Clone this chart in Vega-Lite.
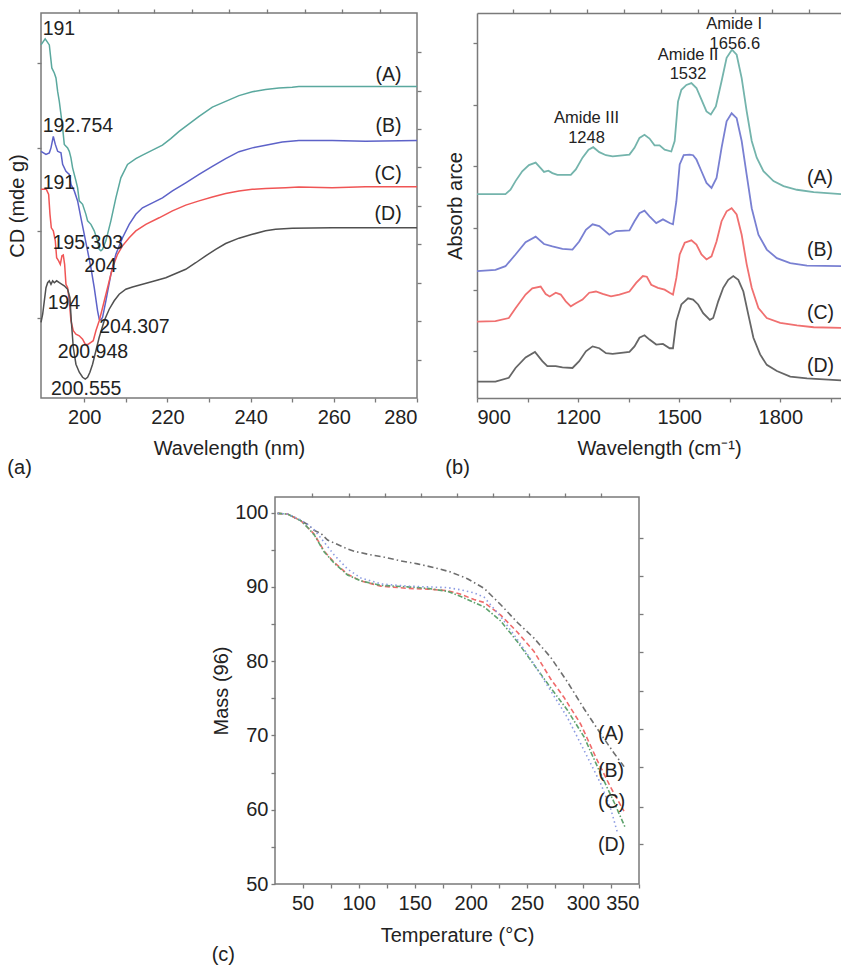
{
"$schema": "https://vega.github.io/schema/vega-lite/v6.json",
"padding": {"left": 6, "top": 7, "right": 0, "bottom": 5},
"background": "white",
"config": {
  "font": "Liberation Sans",
  "view": {"stroke": "#7a7a7a", "strokeWidth": 1.5},
  "axis": {"labelFont": "Liberation Sans", "labelFontSize": 20, "labelColor": "#222", "titleFont": "Liberation Sans", "titleFontSize": 20, "titleFontWeight": "normal", "titleColor": "#222", "tickColor": "#7a7a7a", "tickSize": 4, "tickWidth": 1.3, "domain": false, "grid": false, "domainColor": "#7a7a7a", "domainWidth": 1.5, "labelPadding": 5, "format": "d"},
  "title": {"font": "Liberation Sans", "fontSize": 20, "fontWeight": "normal", "color": "#222"},
  "text": {"font": "Liberation Sans", "color": "#222"}
},
"datasets": {
 "cd": [
  {"s":"A","x":189.6,"y":9.19},{"s":"A","x":190.6,"y":9.35},{"s":"A","x":191.6,"y":9.19},{"s":"A","x":192.2,"y":8.59},{"s":"A","x":192.8,"y":8.46},{"s":"A","x":193.2,"y":8.33},{"s":"A","x":193.6,"y":7.98},{"s":"A","x":194.0,"y":7.72},{"s":"A","x":194.4,"y":7.38},{"s":"A","x":194.8,"y":7.03},{"s":"A","x":195.2,"y":6.6},{"s":"A","x":196.0,"y":6.51},{"s":"A","x":196.4,"y":6.42},{"s":"A","x":196.8,"y":6.25},{"s":"A","x":197.2,"y":5.99},{"s":"A","x":198.0,"y":5.65},{"s":"A","x":198.4,"y":5.47},{"s":"A","x":198.8,"y":5.13},{"s":"A","x":199.6,"y":5.04},{"s":"A","x":200.4,"y":4.78},{"s":"A","x":200.8,"y":4.61},{"s":"A","x":201.6,"y":4.52},{"s":"A","x":202.4,"y":4.35},{"s":"A","x":203.2,"y":4.09},{"s":"A","x":203.6,"y":3.87},{"s":"A","x":204.0,"y":3.83},{"s":"A","x":204.4,"y":3.87},{"s":"A","x":205.2,"y":4.09},{"s":"A","x":206.4,"y":4.61},{"s":"A","x":207.6,"y":5.21},{"s":"A","x":208.8,"y":5.73},{"s":"A","x":210.4,"y":6.08},{"s":"A","x":212.4,"y":6.23},{"s":"A","x":214.0,"y":6.32},{"s":"A","x":216.4,"y":6.45},{"s":"A","x":218.8,"y":6.58},{"s":"A","x":220.8,"y":6.75},{"s":"A","x":222.8,"y":6.94},{"s":"A","x":224.4,"y":7.07},{"s":"A","x":227.6,"y":7.33},{"s":"A","x":230.8,"y":7.57},{"s":"A","x":234.0,"y":7.72},{"s":"A","x":237.2,"y":7.87},{"s":"A","x":240.4,"y":7.97},{"s":"A","x":243.6,"y":8.03},{"s":"A","x":246.8,"y":8.07},{"s":"A","x":250.0,"y":8.09},{"s":"A","x":251.6,"y":8.11},{"s":"A","x":260,"y":8.11},{"s":"A","x":270,"y":8.11},{"s":"A","x":280,"y":8.11},
  {"s":"B","x":189.6,"y":6.42},{"s":"B","x":190.8,"y":6.34},{"s":"B","x":191.6,"y":6.38},{"s":"B","x":192.0,"y":6.51},{"s":"B","x":192.56,"y":6.81},{"s":"B","x":193.04,"y":6.6},{"s":"B","x":193.6,"y":6.42},{"s":"B","x":194.4,"y":6.38},{"s":"B","x":194.8,"y":6.08},{"s":"B","x":195.6,"y":5.9},{"s":"B","x":196.4,"y":5.82},{"s":"B","x":196.8,"y":5.56},{"s":"B","x":197.6,"y":5.39},{"s":"B","x":198.4,"y":5.13},{"s":"B","x":199.2,"y":4.69},{"s":"B","x":200.0,"y":4.26},{"s":"B","x":200.8,"y":3.83},{"s":"B","x":201.6,"y":3.39},{"s":"B","x":202.4,"y":2.87},{"s":"B","x":203.2,"y":2.27},{"s":"B","x":203.6,"y":2.05},{"s":"B","x":204.0,"y":2.03},{"s":"B","x":204.4,"y":2.1},{"s":"B","x":205.2,"y":2.53},{"s":"B","x":206.4,"y":3.22},{"s":"B","x":207.6,"y":3.74},{"s":"B","x":209.2,"y":4.17},{"s":"B","x":210.8,"y":4.52},{"s":"B","x":212.4,"y":4.78},{"s":"B","x":214.0,"y":4.95},{"s":"B","x":216.4,"y":5.08},{"s":"B","x":218.8,"y":5.21},{"s":"B","x":221.2,"y":5.39},{"s":"B","x":224.4,"y":5.6},{"s":"B","x":227.6,"y":5.82},{"s":"B","x":230.8,"y":6.03},{"s":"B","x":234.0,"y":6.23},{"s":"B","x":237.2,"y":6.41},{"s":"B","x":240.4,"y":6.51},{"s":"B","x":243.6,"y":6.58},{"s":"B","x":247.6,"y":6.66},{"s":"B","x":251.6,"y":6.7},{"s":"B","x":259.6,"y":6.7},{"s":"B","x":267.6,"y":6.68},{"s":"B","x":280,"y":6.7},
  {"s":"C","x":189.6,"y":5.43},{"s":"C","x":190.4,"y":5.43},{"s":"C","x":190.8,"y":5.45},{"s":"C","x":191.44,"y":5.3},{"s":"C","x":191.76,"y":4.78},{"s":"C","x":192.08,"y":4.43},{"s":"C","x":192.56,"y":4.35},{"s":"C","x":193.04,"y":4.09},{"s":"C","x":193.36,"y":3.65},{"s":"C","x":193.84,"y":3.57},{"s":"C","x":194.24,"y":3.48},{"s":"C","x":194.64,"y":3.7},{"s":"C","x":194.96,"y":3.72},{"s":"C","x":195.28,"y":3.48},{"s":"C","x":195.6,"y":2.96},{"s":"C","x":196.0,"y":2.87},{"s":"C","x":196.4,"y":2.53},{"s":"C","x":196.8,"y":2.01},{"s":"C","x":197.36,"y":1.75},{"s":"C","x":198.0,"y":1.66},{"s":"C","x":198.8,"y":1.62},{"s":"C","x":199.6,"y":1.53},{"s":"C","x":200.24,"y":1.4},{"s":"C","x":200.8,"y":1.39},{"s":"C","x":201.6,"y":1.45},{"s":"C","x":202.16,"y":1.49},{"s":"C","x":202.8,"y":1.75},{"s":"C","x":203.6,"y":2.01},{"s":"C","x":204.4,"y":2.35},{"s":"C","x":205.6,"y":2.87},{"s":"C","x":206.8,"y":3.39},{"s":"C","x":208.0,"y":3.74},{"s":"C","x":209.2,"y":3.96},{"s":"C","x":210.8,"y":4.17},{"s":"C","x":212.4,"y":4.35},{"s":"C","x":214.8,"y":4.52},{"s":"C","x":218.0,"y":4.69},{"s":"C","x":221.2,"y":4.87},{"s":"C","x":224.4,"y":5.02},{"s":"C","x":227.6,"y":5.13},{"s":"C","x":230.8,"y":5.23},{"s":"C","x":234.0,"y":5.32},{"s":"C","x":237.2,"y":5.39},{"s":"C","x":240.4,"y":5.43},{"s":"C","x":243.6,"y":5.45},{"s":"C","x":248.4,"y":5.47},{"s":"C","x":251.6,"y":5.49},{"s":"C","x":259.6,"y":5.47},{"s":"C","x":267.6,"y":5.5},{"s":"C","x":280,"y":5.5},
  {"s":"D","x":189.6,"y":1.97},{"s":"D","x":190.0,"y":2.18},{"s":"D","x":190.4,"y":2.53},{"s":"D","x":190.8,"y":2.87},{"s":"D","x":191.2,"y":3.0},{"s":"D","x":191.6,"y":3.05},{"s":"D","x":192.0,"y":2.96},{"s":"D","x":192.4,"y":3.05},{"s":"D","x":192.8,"y":3.0},{"s":"D","x":193.36,"y":3.05},{"s":"D","x":194.0,"y":3.0},{"s":"D","x":194.64,"y":2.96},{"s":"D","x":195.2,"y":2.92},{"s":"D","x":196.0,"y":2.83},{"s":"D","x":196.56,"y":2.61},{"s":"D","x":196.88,"y":2.01},{"s":"D","x":197.36,"y":1.32},{"s":"D","x":198.0,"y":0.88},{"s":"D","x":198.8,"y":0.67},{"s":"D","x":199.6,"y":0.54},{"s":"D","x":200.24,"y":0.49},{"s":"D","x":200.8,"y":0.54},{"s":"D","x":201.36,"y":0.67},{"s":"D","x":202.0,"y":0.88},{"s":"D","x":202.8,"y":1.23},{"s":"D","x":203.6,"y":1.58},{"s":"D","x":204.8,"y":2.01},{"s":"D","x":206.0,"y":2.31},{"s":"D","x":207.2,"y":2.53},{"s":"D","x":208.4,"y":2.7},{"s":"D","x":210.0,"y":2.83},{"s":"D","x":211.6,"y":2.89},{"s":"D","x":214.0,"y":2.96},{"s":"D","x":216.4,"y":3.03},{"s":"D","x":219.6,"y":3.13},{"s":"D","x":222.0,"y":3.24},{"s":"D","x":224.4,"y":3.35},{"s":"D","x":226.8,"y":3.52},{"s":"D","x":229.2,"y":3.7},{"s":"D","x":231.6,"y":3.87},{"s":"D","x":234.0,"y":4.02},{"s":"D","x":237.2,"y":4.16},{"s":"D","x":240.4,"y":4.26},{"s":"D","x":243.6,"y":4.35},{"s":"D","x":246.0,"y":4.39},{"s":"D","x":250.0,"y":4.42},{"s":"D","x":259.6,"y":4.43},{"s":"D","x":280,"y":4.43}
 ],
 "cdlab": [
  {"t":"191","x":190.0,"y":9.61},{"t":"192.754","x":190.0,"y":7.07},{"t":"191","x":190.0,"y":5.6},{"t":"195.303","x":192.4,"y":4.04},{"t":"204","x":200.0,"y":3.44},{"t":"194","x":191.2,"y":2.48},{"t":"204.307","x":203.6,"y":1.84},{"t":"200.948","x":193.6,"y":1.19},{"t":"200.555","x":192.0,"y":0.23},
  {"t":"(A)","x":270.0,"y":8.4},{"t":"(B)","x":270.0,"y":7.07},{"t":"(C)","x":269.8,"y":5.82},{"t":"(D)","x":269.8,"y":4.78}
 ],
 "ir": [
  {"s":"A","x":900,"y":3.55},{"s":"A","x":984.5,"y":3.55},{"s":"A","x":999.4,"y":3.62},{"s":"A","x":1014.3,"y":3.76},{"s":"A","x":1034.2,"y":3.92},{"s":"A","x":1054.1,"y":4.02},{"s":"A","x":1074,"y":4.06},{"s":"A","x":1088.9,"y":3.97},{"s":"A","x":1098.8,"y":3.91},{"s":"A","x":1111.7,"y":3.93},{"s":"A","x":1123.7,"y":3.89},{"s":"A","x":1138.6,"y":3.86},{"s":"A","x":1178.3,"y":3.86},{"s":"A","x":1193.2,"y":3.95},{"s":"A","x":1213.1,"y":4.14},{"s":"A","x":1231,"y":4.27},{"s":"A","x":1244.9,"y":4.31},{"s":"A","x":1262.8,"y":4.23},{"s":"A","x":1282.7,"y":4.18},{"s":"A","x":1302.6,"y":4.16},{"s":"A","x":1352.3,"y":4.19},{"s":"A","x":1367.3,"y":4.3},{"s":"A","x":1382.1,"y":4.46},{"s":"A","x":1397,"y":4.51},{"s":"A","x":1411.9,"y":4.45},{"s":"A","x":1426.8,"y":4.34},{"s":"A","x":1441.7,"y":4.34},{"s":"A","x":1456.7,"y":4.27},{"s":"A","x":1476.5,"y":4.24},{"s":"A","x":1486.5,"y":4.41},{"s":"A","x":1496.4,"y":5.05},{"s":"A","x":1506.4,"y":5.24},{"s":"A","x":1521.3,"y":5.32},{"s":"A","x":1536.2,"y":5.35},{"s":"A","x":1551.1,"y":5.27},{"s":"A","x":1566,"y":5.08},{"s":"A","x":1580.9,"y":4.89},{"s":"A","x":1593.8,"y":4.84},{"s":"A","x":1608.7,"y":4.97},{"s":"A","x":1625.6,"y":5.38},{"s":"A","x":1640.6,"y":5.76},{"s":"A","x":1656.5,"y":5.89},{"s":"A","x":1670.4,"y":5.81},{"s":"A","x":1685.3,"y":5.43},{"s":"A","x":1700.2,"y":4.89},{"s":"A","x":1715.1,"y":4.41},{"s":"A","x":1730,"y":4.14},{"s":"A","x":1749.9,"y":3.92},{"s":"A","x":1779.7,"y":3.76},{"s":"A","x":1809.5,"y":3.68},{"s":"A","x":1849.3,"y":3.62},{"s":"A","x":1899,"y":3.58},{"s":"A","x":1980,"y":3.55},
  {"s":"B","x":900,"y":2.3},{"s":"B","x":954.7,"y":2.32},{"s":"B","x":984.5,"y":2.38},{"s":"B","x":1014.3,"y":2.57},{"s":"B","x":1044.1,"y":2.77},{"s":"B","x":1074,"y":2.86},{"s":"B","x":1098.8,"y":2.74},{"s":"B","x":1123.7,"y":2.7},{"s":"B","x":1153.5,"y":2.66},{"s":"B","x":1183.3,"y":2.65},{"s":"B","x":1203.2,"y":2.78},{"s":"B","x":1223.1,"y":2.97},{"s":"B","x":1242.9,"y":3.06},{"s":"B","x":1262.8,"y":3.03},{"s":"B","x":1292.6,"y":2.89},{"s":"B","x":1312.5,"y":2.95},{"s":"B","x":1352.3,"y":2.96},{"s":"B","x":1367.3,"y":3.11},{"s":"B","x":1382.1,"y":3.24},{"s":"B","x":1397,"y":3.28},{"s":"B","x":1411.9,"y":3.19},{"s":"B","x":1431.8,"y":3.08},{"s":"B","x":1451.7,"y":3.14},{"s":"B","x":1471.6,"y":3.08},{"s":"B","x":1481.5,"y":3.06},{"s":"B","x":1491.5,"y":3.43},{"s":"B","x":1501.4,"y":4.03},{"s":"B","x":1513.3,"y":4.18},{"s":"B","x":1531.2,"y":4.19},{"s":"B","x":1541.2,"y":4.18},{"s":"B","x":1551.1,"y":4.11},{"s":"B","x":1566,"y":3.92},{"s":"B","x":1580.9,"y":3.73},{"s":"B","x":1595.8,"y":3.65},{"s":"B","x":1610.7,"y":3.81},{"s":"B","x":1625.6,"y":4.3},{"s":"B","x":1640.6,"y":4.73},{"s":"B","x":1655.5,"y":4.86},{"s":"B","x":1670.4,"y":4.78},{"s":"B","x":1685.3,"y":4.41},{"s":"B","x":1700.2,"y":3.86},{"s":"B","x":1715.1,"y":3.32},{"s":"B","x":1735,"y":2.89},{"s":"B","x":1759.8,"y":2.65},{"s":"B","x":1789.7,"y":2.51},{"s":"B","x":1829.4,"y":2.43},{"s":"B","x":1879.1,"y":2.39},{"s":"B","x":1980,"y":2.38},
  {"s":"C","x":900,"y":1.48},{"s":"C","x":954.7,"y":1.49},{"s":"C","x":994.4,"y":1.54},{"s":"C","x":1014.3,"y":1.7},{"s":"C","x":1044.1,"y":1.92},{"s":"C","x":1064,"y":2.02},{"s":"C","x":1088.9,"y":2.05},{"s":"C","x":1103.8,"y":1.93},{"s":"C","x":1115.7,"y":1.89},{"s":"C","x":1133.6,"y":1.95},{"s":"C","x":1148.5,"y":1.92},{"s":"C","x":1163.4,"y":1.81},{"s":"C","x":1178.3,"y":1.73},{"s":"C","x":1193.2,"y":1.78},{"s":"C","x":1213.1,"y":1.84},{"s":"C","x":1233,"y":1.95},{"s":"C","x":1252.9,"y":1.97},{"s":"C","x":1272.8,"y":1.93},{"s":"C","x":1297.6,"y":1.89},{"s":"C","x":1322.5,"y":1.92},{"s":"C","x":1352.3,"y":1.97},{"s":"C","x":1372.2,"y":2.11},{"s":"C","x":1392.1,"y":2.22},{"s":"C","x":1404,"y":2.21},{"s":"C","x":1416.9,"y":2.08},{"s":"C","x":1436.8,"y":2.03},{"s":"C","x":1456.7,"y":2.0},{"s":"C","x":1471.6,"y":1.95},{"s":"C","x":1481.5,"y":1.92},{"s":"C","x":1491.5,"y":2.19},{"s":"C","x":1501.4,"y":2.57},{"s":"C","x":1516.3,"y":2.76},{"s":"C","x":1536.2,"y":2.8},{"s":"C","x":1551.1,"y":2.73},{"s":"C","x":1566,"y":2.57},{"s":"C","x":1580.9,"y":2.49},{"s":"C","x":1595.8,"y":2.54},{"s":"C","x":1610.7,"y":2.78},{"s":"C","x":1625.6,"y":3.11},{"s":"C","x":1640.6,"y":3.27},{"s":"C","x":1655.5,"y":3.32},{"s":"C","x":1670.4,"y":3.22},{"s":"C","x":1685.3,"y":2.89},{"s":"C","x":1700.2,"y":2.41},{"s":"C","x":1715.1,"y":2.03},{"s":"C","x":1735,"y":1.7},{"s":"C","x":1759.8,"y":1.54},{"s":"C","x":1799.6,"y":1.46},{"s":"C","x":1849.3,"y":1.42},{"s":"C","x":1899,"y":1.39},{"s":"C","x":1980,"y":1.38},
  {"s":"D","x":900,"y":0.51},{"s":"D","x":954.7,"y":0.51},{"s":"D","x":994.4,"y":0.57},{"s":"D","x":1014.3,"y":0.73},{"s":"D","x":1044.1,"y":0.9},{"s":"D","x":1072,"y":0.99},{"s":"D","x":1093.8,"y":0.84},{"s":"D","x":1108.7,"y":0.76},{"s":"D","x":1133.6,"y":0.76},{"s":"D","x":1153.5,"y":0.74},{"s":"D","x":1183.3,"y":0.73},{"s":"D","x":1203.2,"y":0.84},{"s":"D","x":1223.1,"y":1.0},{"s":"D","x":1242.9,"y":1.08},{"s":"D","x":1262.8,"y":1.05},{"s":"D","x":1282.7,"y":0.97},{"s":"D","x":1302.6,"y":0.96},{"s":"D","x":1352.3,"y":0.99},{"s":"D","x":1367.3,"y":1.08},{"s":"D","x":1382.1,"y":1.22},{"s":"D","x":1397,"y":1.26},{"s":"D","x":1411.9,"y":1.19},{"s":"D","x":1431.8,"y":1.11},{"s":"D","x":1451.7,"y":1.12},{"s":"D","x":1471.6,"y":1.05},{"s":"D","x":1481.5,"y":1.05},{"s":"D","x":1491.5,"y":1.49},{"s":"D","x":1506.4,"y":1.76},{"s":"D","x":1526.2,"y":1.86},{"s":"D","x":1541.2,"y":1.84},{"s":"D","x":1556.1,"y":1.76},{"s":"D","x":1571,"y":1.62},{"s":"D","x":1590.9,"y":1.51},{"s":"D","x":1600.8,"y":1.54},{"s":"D","x":1615.7,"y":1.81},{"s":"D","x":1630.6,"y":2.03},{"s":"D","x":1645.5,"y":2.16},{"s":"D","x":1660.4,"y":2.22},{"s":"D","x":1675.3,"y":2.16},{"s":"D","x":1690.3,"y":1.97},{"s":"D","x":1705.2,"y":1.59},{"s":"D","x":1720.1,"y":1.22},{"s":"D","x":1740,"y":0.95},{"s":"D","x":1759.8,"y":0.78},{"s":"D","x":1789.7,"y":0.68},{"s":"D","x":1829.4,"y":0.59},{"s":"D","x":1879.1,"y":0.56},{"s":"D","x":1980,"y":0.53}
 ],
 "irser": [
  {"t":"(A)","x":1879,"y":3.81},{"t":"(B)","x":1879,"y":2.65},{"t":"(C)","x":1879,"y":1.62},{"t":"(D)","x":1879,"y":0.76}
 ],
 "iramide": [
  {"t":"Amide III","x":1225,"y":4.78},{"t":"1248","x":1225,"y":4.46},{"t":"Amide II","x":1526,"y":5.81},{"t":"1532","x":1526,"y":5.5},{"t":"Amide I","x":1663,"y":6.31},{"t":"1656.6","x":1665,"y":5.98}
 ],
 "tga": [
  {"s":"A","x":27.7,"y":99.9},{"s":"A","x":36.6,"y":99.8},{"s":"A","x":48.5,"y":98.9},{"s":"A","x":54.5,"y":98.4},{"s":"A","x":60.4,"y":97.6},{"s":"A","x":66.3,"y":97.2},{"s":"A","x":72.3,"y":96.3},{"s":"A","x":84.2,"y":95.5},{"s":"A","x":90.1,"y":95.1},{"s":"A","x":96.0,"y":94.8},{"s":"A","x":107.9,"y":94.4},{"s":"A","x":122.8,"y":94.0},{"s":"A","x":137.6,"y":93.5},{"s":"A","x":152.5,"y":93.1},{"s":"A","x":167.3,"y":92.6},{"s":"A","x":182.2,"y":92.0},{"s":"A","x":197.0,"y":91.1},{"s":"A","x":211.9,"y":89.8},{"s":"A","x":226.7,"y":87.6},{"s":"A","x":241.6,"y":85.2},{"s":"A","x":256.4,"y":83.1},{"s":"A","x":271.3,"y":80.5},{"s":"A","x":286.2,"y":77.2},{"s":"A","x":301.0,"y":73.6},{"s":"A","x":315.9,"y":70.2},{"s":"A","x":327.8,"y":67.6},{"s":"A","x":336.7,"y":65.8},
  {"s":"B","x":27.7,"y":99.9},{"s":"B","x":36.6,"y":99.8},{"s":"B","x":48.5,"y":98.9},{"s":"B","x":54.5,"y":98.0},{"s":"B","x":60.4,"y":97.1},{"s":"B","x":69.3,"y":94.8},{"s":"B","x":78.2,"y":93.3},{"s":"B","x":90.1,"y":91.7},{"s":"B","x":102,"y":90.8},{"s":"B","x":119.8,"y":90.1},{"s":"B","x":143.6,"y":89.8},{"s":"B","x":161.4,"y":89.7},{"s":"B","x":179.2,"y":89.5},{"s":"B","x":191.1,"y":89.0},{"s":"B","x":202.9,"y":88.3},{"s":"B","x":211.9,"y":87.9},{"s":"B","x":226.7,"y":86.2},{"s":"B","x":241.6,"y":83.9},{"s":"B","x":256.4,"y":81.3},{"s":"B","x":271.3,"y":77.6},{"s":"B","x":283.2,"y":75.1},{"s":"B","x":298.1,"y":71.5},{"s":"B","x":312.9,"y":66.6},{"s":"B","x":324.8,"y":63.0},{"s":"B","x":336.6,"y":59.8},
  {"s":"C","x":27.7,"y":99.9},{"s":"C","x":36.6,"y":99.8},{"s":"C","x":48.5,"y":98.9},{"s":"C","x":54.5,"y":98.0},{"s":"C","x":60.4,"y":97.0},{"s":"C","x":69.3,"y":94.7},{"s":"C","x":78.2,"y":93.2},{"s":"C","x":90.1,"y":91.6},{"s":"C","x":102,"y":90.8},{"s":"C","x":119.8,"y":90.2},{"s":"C","x":143.6,"y":90.0},{"s":"C","x":161.4,"y":89.8},{"s":"C","x":179.2,"y":89.4},{"s":"C","x":191.1,"y":88.7},{"s":"C","x":202.9,"y":87.9},{"s":"C","x":211.9,"y":87.3},{"s":"C","x":226.7,"y":85.4},{"s":"C","x":241.6,"y":82.6},{"s":"C","x":256.4,"y":79.5},{"s":"C","x":271.3,"y":76.4},{"s":"C","x":286.2,"y":73.4},{"s":"C","x":301.0,"y":69.8},{"s":"C","x":315.9,"y":64.8},{"s":"C","x":327.8,"y":61.0},{"s":"C","x":338,"y":57.5},
  {"s":"D","x":27.7,"y":99.9},{"s":"D","x":36.6,"y":99.8},{"s":"D","x":48.5,"y":99.0},{"s":"D","x":54.5,"y":98.4},{"s":"D","x":60.4,"y":97.7},{"s":"D","x":69.3,"y":96.0},{"s":"D","x":78.2,"y":94.3},{"s":"D","x":90.1,"y":92.4},{"s":"D","x":102,"y":91.2},{"s":"D","x":119.8,"y":90.4},{"s":"D","x":143.6,"y":90.1},{"s":"D","x":161.4,"y":90.0},{"s":"D","x":179.2,"y":89.9},{"s":"D","x":191.1,"y":89.6},{"s":"D","x":202.9,"y":89.2},{"s":"D","x":211.9,"y":88.6},{"s":"D","x":226.7,"y":86.0},{"s":"D","x":241.6,"y":82.9},{"s":"D","x":256.4,"y":79.6},{"s":"D","x":271.3,"y":76.0},{"s":"D","x":286.2,"y":72.4},{"s":"D","x":301.0,"y":68.0},{"s":"D","x":315.9,"y":63.5},{"s":"D","x":325,"y":60.0},{"s":"D","x":331,"y":56.8}
 ],
 "tgalab": [
  {"t":"(A)","x":313.5,"y":70.2},{"t":"(B)","x":313.5,"y":65.2},{"t":"(C)","x":313.5,"y":61.0},{"t":"(D)","x":313.5,"y":55.2}
 ]
},
"vconcat": [
 {
  "hconcat": [
   {
    "width": 376, "height": 385,
    "title": {"text": "(a)", "orient": "bottom", "anchor": "start", "frame": "bounds", "offset": 0},
    "layer": [
     {
      "data": {"name": "cd"},
      "mark": {"type": "line", "strokeWidth": 1.5},
      "encoding": {
       "x": {"field": "x", "type": "quantitative", "scale": {"domain": [189.6, 280], "nice": false, "zero": false},
             "axis": {"orient": "bottom", "title": "Wavelength (nm)", "values": [200,210,220,230,240,250,260,270,280], "labelExpr": "datum.value % 20 === 0 ? datum.label : ''", "titlePadding": 11}},
       "y": {"field": "y", "type": "quantitative", "scale": {"domain": [0, 10.02], "nice": false, "zero": false},
             "axis": {"orient": "left", "title": "CD (mde g)", "labels": false, "values": [2.09, 4.35, 6.5, 8.71], "titlePadding": 9}},
       "color": {"field": "s", "type": "nominal", "legend": null, "scale": {"domain": ["A","B","C","D"], "range": ["#5aa89e", "#5d62c8", "#f05555", "#505050"]}}
      }
     },
     {
      "data": {"name": "cdlab"},
      "mark": {"type": "text", "align": "left", "baseline": "middle", "fontSize": 19.5},
      "encoding": {
       "x": {"field": "x", "type": "quantitative", "axis": {"orient": "top", "title": null, "labels": false, "values": [198.8,208,216.8,225.8,234.8,243.9,253.1,262,271.1]}},
       "y": {"field": "y", "type": "quantitative", "axis": {"orient": "right", "title": null, "labels": false, "values": [1,2,3,4,5,6,7,8,9]}},
       "text": {"field": "t"}
      }
     }
    ],
    "resolve": {"axis": {"x": "independent", "y": "independent"}}
   },
   {
    "width": 364, "height": 385,
    "view": {"stroke": null},
    "title": {"text": "(b)", "orient": "bottom", "anchor": "start", "frame": "bounds", "offset": 0},
    "layer": [
     {
      "data": {"name": "ir"},
      "mark": {"type": "line", "strokeWidth": 1.8},
      "encoding": {
       "x": {"field": "x", "type": "quantitative", "scale": {"domain": [900, 1980], "nice": false, "zero": false},
             "axis": {"orient": "bottom", "domain": true, "title": "Wavelength (cm⁻¹)", "values": [900,1050,1200,1350,1500,1650,1800,1950], "labelExpr": "datum.value % 300 === 0 ? datum.label : ''", "titlePadding": 11}},
       "y": {"field": "y", "type": "quantitative", "scale": {"domain": [0.243, 6.486], "nice": false, "zero": false},
             "axis": {"orient": "left", "domain": true, "title": "Absorb arce", "labels": false, "values": [1,2,3,4,5,6], "titlePadding": 7}},
       "color": {"field": "s", "type": "nominal", "legend": null, "scale": {"domain": ["A","B","C","D"], "range": ["#74b4ac", "#7980d2", "#f07070", "#666666"]}}
      }
     },
     {
      "data": {"name": "irser"},
      "mark": {"type": "text", "align": "left", "baseline": "middle", "fontSize": 19.5},
      "encoding": {
       "x": {"field": "x", "type": "quantitative", "axis": {"orient": "top", "domain": true, "title": null, "labels": false, "values": [1007,1118,1227,1336,1446,1556,1665,1776,1885]}},
       "y": {"field": "y", "type": "quantitative", "axis": null},
       "text": {"field": "t"}
      }
     },
     {
      "data": {"name": "iramide"},
      "mark": {"type": "text", "align": "center", "baseline": "middle", "fontSize": 16.5},
      "encoding": {
       "x": {"field": "x", "type": "quantitative", "axis": null},
       "y": {"field": "y", "type": "quantitative", "axis": null},
       "text": {"field": "t"}
      }
     }
    ],
    "resolve": {"axis": {"x": "independent", "y": "independent"}}
   }
  ],
  "spacing": 60,
  "bounds": "flush",
  "resolve": {"scale": {"color": "independent"}}
 },
 {
  "hconcat": [
   {
    "width": 234, "height": 10,
    "view": {"stroke": null},
    "data": {"values": [{"a": 1}]},
    "mark": {"type": "point", "opacity": 0},
    "encoding": {}
   },
   {
    "width": 364, "height": 387,
    "title": {"text": "(c)", "orient": "bottom", "anchor": "start", "frame": "bounds", "offset": 0},
    "layer": [
     {
      "data": {"name": "tga"},
      "mark": {"type": "line", "strokeWidth": 1.6},
      "encoding": {
       "x": {"field": "x", "type": "quantitative", "scale": {"domain": [25.4, 350], "nice": false, "zero": false},
             "axis": {"orient": "bottom", "title": "Temperature (°C)", "values": [50,75,100,125,150,175,200,225,250,275,300,325,350], "labelExpr": "datum.value % 50 === 0 ? datum.label : ''", "titlePadding": 12}},
       "y": {"field": "y", "type": "quantitative", "scale": {"domain": [50, 102.1], "nice": false, "zero": false},
             "axis": {"orient": "left", "title": "Mass (96)", "values": [50,55,60,65,70,75,80,85,90,95,100], "labelExpr": "datum.value % 10 === 0 ? datum.label : ''", "titlePadding": 3, "labelPadding": 3}},
       "color": {"field": "s", "type": "nominal", "legend": null, "scale": {"domain": ["A","B","C","D"], "range": ["#6e6e6e", "#f06a6a", "#5fa36e", "#8c9be2"]}},
       "strokeDash": {"field": "s", "type": "nominal", "legend": null, "scale": {"domain": ["A","B","C","D"], "range": [[6,3,1.5,3],[5,3],[5,2,1.5,2],[1.5,3]]}}
      }
     },
     {
      "data": {"name": "tgalab"},
      "mark": {"type": "text", "align": "left", "baseline": "middle", "fontSize": 19.5},
      "encoding": {
       "x": {"field": "x", "type": "quantitative", "axis": {"orient": "top", "title": null, "labels": false, "values": [58,91.6,123.4,155.5,187.6,220,252,283.8,316.5]}},
       "y": {"field": "y", "type": "quantitative", "axis": {"orient": "right", "title": null, "labels": false, "values": [96.6,91.5,86.3,81.2,76.0,70.9,65.7,60.3,55.4]}},
       "text": {"field": "t"}
      }
     }
    ],
    "resolve": {"axis": {"x": "independent", "y": "independent"}}
   }
  ],
  "spacing": 0,
  "bounds": "flush"
 }
],
"spacing": 12,
"resolve": {"scale": {"color": "independent", "strokeDash": "independent"}}
}
